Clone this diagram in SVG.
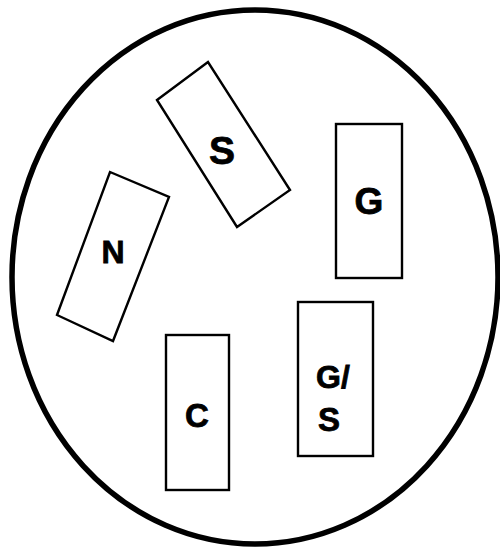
<svg xmlns="http://www.w3.org/2000/svg" width="500" height="548" viewBox="0 0 500 548">
<style>
.box{fill:#fff;stroke:#000;stroke-width:2.4;stroke-linejoin:miter}
.lbl{font-family:"Liberation Sans",Arial,sans-serif;font-weight:bold;fill:#000;stroke:#000;stroke-width:0.8}
</style>
<rect width="500" height="548" fill="#fff"/>
<g id="dish">
<ellipse cx="255" cy="277" rx="243" ry="267" fill="none" stroke="#000" stroke-width="5.5"/>
</g>
<g id="connectors"></g>
<g id="node-S">
<polygon class="box" points="157,100 208,62 290,190 237,227"/>
<text class="lbl" x="222" y="164" font-size="39" text-anchor="middle">S</text>
</g>
<g id="node-N">
<polygon class="box" points="110,172 169,197 113,341 57,315"/>
<text class="lbl" x="113" y="263" font-size="32" text-anchor="middle">N</text>
</g>
<g id="node-G">
<rect class="box" x="336" y="124" width="66" height="154"/>
<text class="lbl" x="369" y="214" font-size="37" text-anchor="middle">G</text>
</g>
<g id="node-GS">
<rect class="box" x="298" y="302" width="75" height="154"/>
<text class="lbl" x="316" y="388" font-size="32">G/</text>
<text class="lbl" x="318" y="431" font-size="33">S</text>
</g>
<g id="node-C">
<rect class="box" x="166" y="335" width="63" height="155"/>
<text class="lbl" x="197" y="427" font-size="33" text-anchor="middle">C</text>
</g>
</svg>
